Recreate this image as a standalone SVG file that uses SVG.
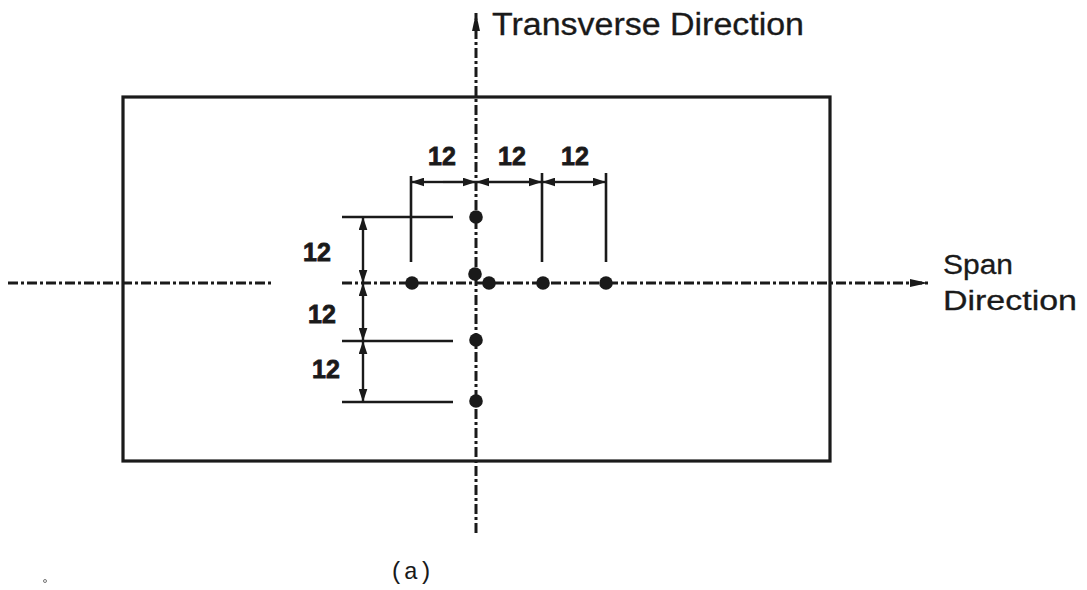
<svg xmlns="http://www.w3.org/2000/svg" width="1087" height="590" viewBox="0 0 1087 590">
<defs>
<style>
.frame{fill:none;stroke:#1a1a1a;stroke-width:3.2}
.axis{fill:none;stroke:#1a1a1a;stroke-width:3;stroke-dasharray:10 3 3 3}
.ext{fill:none;stroke:#1a1a1a;stroke-width:2.6}
.dim{fill:none;stroke:#1a1a1a;stroke-width:2.4}
.dot{fill:#1a1a1a}
.lbl{font-family:"Liberation Sans",Arial,sans-serif;font-weight:bold;font-size:25px;fill:#1a1a1a;stroke:#1a1a1a;stroke-width:0.8;text-anchor:middle}
.title{font-family:"Liberation Sans",Arial,sans-serif;fill:#1a1a1a;stroke:#1a1a1a;stroke-width:0.3}
.cap{font-family:"Liberation Mono","Courier New",monospace;font-size:24px;fill:#1a1a1a;text-anchor:middle}
</style>
<marker id="ah" viewBox="0 0 12 8" refX="12" refY="4" markerWidth="13" markerHeight="9" markerUnits="userSpaceOnUse" orient="auto">
<path d="M0,0 L12,4 L0,8 Z" fill="#1a1a1a"/>
</marker>
<marker id="big" viewBox="0 0 18 8" refX="18" refY="4" markerWidth="18" markerHeight="9" markerUnits="userSpaceOnUse" orient="auto">
<path d="M0,0 L18,4 L0,8 Z" fill="#1a1a1a"/>
</marker>
</defs>
<rect width="1087" height="590" fill="#ffffff"/>
<g id="frame">
<rect class="frame" x="123" y="97" width="707" height="364"/>
</g>
<g id="connectors">
<!-- axes -->
<line class="axis" x1="476" y1="533" x2="476" y2="13" marker-end="url(#big)"/>
<line class="axis" x1="8" y1="283" x2="272" y2="283"/>
<line class="axis" x1="342" y1="283" x2="928" y2="283" marker-end="url(#big)"/>
<!-- extension lines top -->
<line class="ext" x1="411" y1="176" x2="411" y2="262"/>
<line class="ext" x1="542" y1="173" x2="542" y2="262"/>
<line class="ext" x1="606" y1="173" x2="606" y2="262"/>
<!-- extension lines left -->
<line class="ext" x1="342" y1="217" x2="453" y2="217"/>
<line class="ext" x1="342" y1="341" x2="453" y2="341"/>
<line class="ext" x1="342" y1="402" x2="453" y2="402"/>
<!-- horizontal dimension arrows -->
<line class="dim" x1="443" y1="182" x2="411" y2="182" marker-end="url(#ah)"/>
<line class="dim" x1="443" y1="182" x2="476" y2="182" marker-end="url(#ah)"/>
<line class="dim" x1="509" y1="182" x2="476" y2="182" marker-end="url(#ah)"/>
<line class="dim" x1="509" y1="182" x2="542" y2="182" marker-end="url(#ah)"/>
<line class="dim" x1="574" y1="182" x2="542" y2="182" marker-end="url(#ah)"/>
<line class="dim" x1="574" y1="182" x2="606" y2="182" marker-end="url(#ah)"/>
<!-- vertical dimension arrows -->
<line class="dim" x1="363" y1="250" x2="363" y2="217" marker-end="url(#ah)"/>
<line class="dim" x1="363" y1="250" x2="363" y2="283" marker-end="url(#ah)"/>
<line class="dim" x1="363" y1="312" x2="363" y2="283" marker-end="url(#ah)"/>
<line class="dim" x1="363" y1="312" x2="363" y2="341" marker-end="url(#ah)"/>
<line class="dim" x1="363" y1="371" x2="363" y2="341" marker-end="url(#ah)"/>
<line class="dim" x1="363" y1="371" x2="363" y2="402" marker-end="url(#ah)"/>
</g>
<g id="points">
<circle class="dot" cx="476" cy="217" r="6.8"/>
<circle class="dot" cx="475" cy="274" r="6.8"/>
<circle class="dot" cx="489" cy="283" r="6.8"/>
<circle class="dot" cx="412" cy="283" r="6.8"/>
<circle class="dot" cx="543" cy="283" r="6.8"/>
<circle class="dot" cx="606" cy="283" r="6.8"/>
<circle class="dot" cx="476" cy="340" r="6.8"/>
<circle class="dot" cx="476" cy="401" r="6.8"/>
</g>
<g id="labels">
<text class="lbl" x="442" y="165">12</text>
<text class="lbl" x="512" y="165">12</text>
<text class="lbl" x="575" y="165">12</text>
<text class="lbl" x="317" y="261">12</text>
<text class="lbl" x="322" y="323">12</text>
<text class="lbl" x="326" y="378">12</text>
</g>
<g id="transverse-label">
<text class="title" x="492" y="35" font-size="31" textLength="312" lengthAdjust="spacingAndGlyphs">Transverse Direction</text>
</g>
<g id="span-label">
<text class="title" x="943" y="274" font-size="27" textLength="70" lengthAdjust="spacingAndGlyphs">Span</text>
<text class="title" x="943" y="310" font-size="27" textLength="134" lengthAdjust="spacingAndGlyphs">Direction</text>
</g>
<g id="caption">
<text class="cap" x="411" y="579">(a)</text>
</g>
<circle cx="45" cy="581" r="1.5" fill="none" stroke="#555" stroke-width="0.8"/>
</svg>
